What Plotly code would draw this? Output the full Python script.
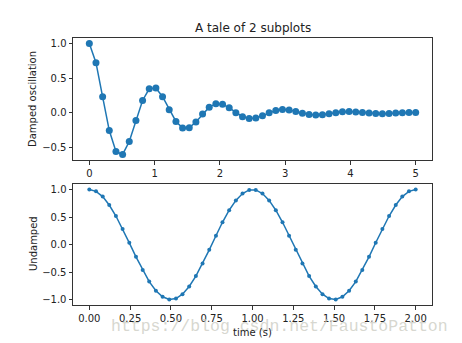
import plotly.graph_objects as go

# ---- data ----
x1 = [0.0, 0.102, 0.204, 0.306, 0.408, 0.510, 0.612, 0.714, 0.816, 0.918,
      1.020, 1.122, 1.224, 1.327, 1.429, 1.531, 1.633, 1.735, 1.837, 1.939,
      2.041, 2.143, 2.245, 2.347, 2.449, 2.551, 2.653, 2.755, 2.857, 2.959,
      3.061, 3.163, 3.265, 3.367, 3.469, 3.571, 3.673, 3.776, 3.878, 3.980,
      4.082, 4.184, 4.286, 4.388, 4.490, 4.592, 4.694, 4.796, 4.898, 5.0]
y1 = [1.0, 0.7237, 0.2320, -0.2543, -0.5573, -0.5991, -0.4129, -0.1089, 0.1790, 0.3478,
      0.3575, 0.2338, 0.0469, -0.1227, -0.2160, -0.2124, -0.1314, -0.0169, 0.0826, 0.1334,
      0.1257, 0.0731, 0.0034, -0.0547, -0.0820, -0.0740, -0.0403, 0.0020, 0.0358, 0.0501,
      0.0434, 0.0219, -0.0037, -0.0232, -0.0305, -0.0253, -0.0117, 0.0037, 0.0149, 0.0185,
      0.0147, 0.0062, -0.0031, -0.0094, -0.0112, -0.0085, -0.0031, 0.0024, 0.0060, 0.0067]
x2 = [0.0, 0.041, 0.082, 0.122, 0.163, 0.204, 0.245, 0.286, 0.327, 0.367,
      0.408, 0.449, 0.490, 0.531, 0.571, 0.612, 0.653, 0.694, 0.735, 0.776,
      0.816, 0.857, 0.898, 0.939, 0.980, 1.020, 1.061, 1.102, 1.143, 1.184,
      1.224, 1.265, 1.306, 1.347, 1.388, 1.429, 1.469, 1.510, 1.551, 1.592,
      1.633, 1.673, 1.714, 1.755, 1.796, 1.837, 1.878, 1.918, 1.959, 2.0]
y2 = [1.0, 0.9673, 0.8713, 0.7183, 0.5183, 0.2845, 0.0321, -0.2225, -0.4625, -0.6723,
      -0.8382, -0.9491, -0.9979, -0.9816, -0.9010, -0.7617, -0.5721, -0.3454, -0.0960, 0.1596,
      0.4048, 0.6235, 0.8014, 0.9269, 0.9918, 0.9918, 0.9269, 0.8014, 0.6235, 0.4048,
      0.1596, -0.0960, -0.3454, -0.5721, -0.7617, -0.9010, -0.9816, -0.9979, -0.9491, -0.8382,
      -0.6723, -0.4625, -0.2225, 0.0321, 0.2845, 0.5183, 0.7183, 0.8713, 0.9673, 1.0]

title_text = "A tale of 2 subplots"
ylabel1 = "Damped oscillation"
ylabel2 = "Undamped"
xlabel2 = "time (s)"
watermark = "https://blog.csdn.net/FaustoPatton"

W, H = 462, 343
C = "#1f77b4"
FONT = "DejaVu Sans"

fig = go.Figure()
fig.add_trace(go.Scatter(x=x1, y=y1, mode="lines+markers", xaxis="x", yaxis="y",
                         line=dict(color=C, width=1.5),
                         marker=dict(color=C, size=7), showlegend=False))
fig.add_trace(go.Scatter(x=x2, y=y2, mode="lines+markers", xaxis="x2", yaxis="y2",
                         line=dict(color=C, width=1.5),
                         marker=dict(color=C, size=4), showlegend=False))

xd = [73 / W, 432 / W]
ax_common = dict(showline=True, linecolor="#333", linewidth=1, mirror=True,
                 ticks="outside", ticklen=3.5, tickwidth=0.8, tickcolor="#333",
                 showgrid=False, zeroline=False,
                 tickfont=dict(family=FONT, size=10, color="#222"))

fig.update_layout(
    width=W, height=H, margin=dict(l=0, r=0, t=0, b=0),
    paper_bgcolor="white", plot_bgcolor="white",
    font=dict(family=FONT, color="#222"),
    xaxis=dict(domain=xd, anchor="y", range=[-0.25, 5.25], tickvals=[0, 1, 2, 3, 4, 5], **ax_common),
    yaxis=dict(domain=[1 - 160 / H, 1 - 38 / H], anchor="x", range=[-0.679, 1.08],
               tickvals=[-0.5, 0, 0.5, 1.0], tickformat=".1f", **ax_common),
    xaxis2=dict(domain=xd, anchor="y2", range=[-0.1, 2.1],
                tickvals=[0, 0.25, 0.5, 0.75, 1.0, 1.25, 1.5, 1.75, 2.0], tickformat=".2f", **ax_common),
    yaxis2=dict(domain=[1 - 305 / H, 1 - 184 / H], anchor="x2", range=[-1.098, 1.1],
                tickvals=[-1.0, -0.5, 0, 0.5, 1.0], tickformat=".1f", **ax_common),
)

ann = [
    dict(text=title_text, x=(73 + 432) / 2 / W, y=1 - 28 / H, font=dict(size=12)),
    dict(text=ylabel1, x=33 / W, y=1 - 99 / H, textangle=-90, font=dict(size=10)),
    dict(text=ylabel2, x=33 / W, y=1 - 244 / H, textangle=-90, font=dict(size=10)),
    dict(text=watermark, x=279 / W, y=1 - 326 / H,
         font=dict(size=16.5, family="Liberation Mono", color="rgba(205,205,195,0.8)")),
    dict(text=xlabel2, x=(73 + 432) / 2 / W, y=1 - 332 / H, font=dict(size=10)),
]
for a in ann:
    fig.add_annotation(xref="paper", yref="paper", showarrow=False,
                       xanchor="center", yanchor="middle", **a)

fig.write_html("out.html")
